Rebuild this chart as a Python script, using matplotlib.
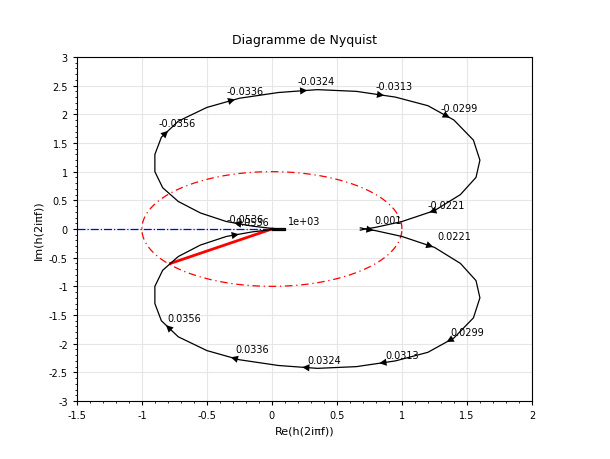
import numpy as np
import matplotlib.pyplot as plt

# lower branch (positive frequencies), from low to high frequency
re_low = [0.68, 0.72, 0.80, 1.00, 1.25, 1.45, 1.57, 1.60, 1.55, 1.40, 1.20, 0.95, 0.65, 0.35,
          0.05, -0.25, -0.50, -0.72, -0.85, -0.90, -0.90, -0.84, -0.72, -0.55, -0.35, -0.15, 0.0, 0.10]
im_low = [0.02, 0.00, -0.03, -0.13, -0.32, -0.60, -0.90, -1.20, -1.55, -1.90, -2.15, -2.30, -2.40, -2.43,
          -2.38, -2.28, -2.12, -1.88, -1.60, -1.30, -1.00, -0.72, -0.48, -0.28, -0.13, -0.05, -0.01, 0.0]

freq_labels = ["0.001", "0.0221", "0.0299", "0.0313", "0.0324", "0.0336", "0.0356", "0.0536"]
label_re = [0.77, 1.25, 1.35, 0.85, 0.25, -0.30, -0.82, -0.30]
label_im = [0.00, -0.27, -1.95, -2.35, -2.43, -2.25, -1.70, -0.03]

fig, ax = plt.subplots(figsize=(6.1, 4.6), dpi=100)
fig.subplots_adjust(left=0.126, right=0.872, top=0.874, bottom=0.126)

ax.plot([-1.5, 0], [0, 0], color="blue", ls="-.", lw=0.9)
t = np.linspace(0, 2 * np.pi, 300)
ax.plot(np.cos(t), np.sin(t), color="red", ls=(0, (6, 3, 1, 3)), lw=0.9)
ax.plot([0, -0.78], [0, -0.6], color="red", lw=2)

re_low = np.array(re_low)
im_low = np.array(im_low)
ax.plot(re_low, im_low, color="black", lw=0.9)
ax.plot(re_low[::-1], -im_low[::-1], color="black", lw=0.9)
ax.plot([0.0, 0.1, 0.1, 0.0], [0.01, 0.01, -0.01, -0.01], color="black", lw=0.9)


def arrow(x, y, dx, dy):
    ax.annotate("", xy=(x + dx, y + dy), xytext=(x, y),
                arrowprops=dict(arrowstyle="-|>", color="black", lw=0, mutation_scale=13))


def seg_point(x, y, sign):
    # nearest point on the curve segment and the local direction
    best = None
    for k in range(len(re_low) - 1):
        p = np.array([re_low[k], sign * im_low[k]])
        q = np.array([re_low[k + 1], sign * im_low[k + 1]])
        d = q - p
        s = np.clip(np.dot([x, y] - p, d) / np.dot(d, d), 0, 1)
        c = p + s * d
        dist = np.hypot(*(c - [x, y]))
        if best is None or dist < best[0]:
            best = (dist, c, d / np.hypot(*d))
    return best[1], best[2]


for lab, x, y in zip(freq_labels, label_re, label_im):
    c, d = seg_point(x, y, 1)
    arrow(c[0] - d[0] * 0.02, c[1] - d[1] * 0.02, d[0] * 0.04, d[1] * 0.04)
    ax.text(x + 0.02, y + 0.1, lab, fontsize=7)
    if lab != "0.001":
        c, d = seg_point(x, -y, -1)
        # upper branch is travelled in reverse
        arrow(c[0] + d[0] * 0.02, c[1] + d[1] * 0.02, -d[0] * 0.04, -d[1] * 0.04)
        ax.text(x - 0.05, -y + 0.1, "-" + lab, fontsize=7)
ax.text(0.12, 0.08, "1e+03", fontsize=7)

ax.set_xlim(-1.5, 2)
ax.set_ylim(-3, 3)
ax.set_xticks(np.arange(-1.5, 2.01, 0.5))
ax.set_yticks(np.arange(-3, 3.01, 0.5))
ax.set_xticklabels(["-1.5", "-1", "-0.5", "0", "0.5", "1", "1.5", "2"])
ax.set_yticklabels(["-3", "-2.5", "-2", "-1.5", "-1", "-0.5", "0", "0.5", "1", "1.5", "2", "2.5", "3"])
ax.set_xticks(np.arange(-1.5, 2.01, 0.1), minor=True)
ax.set_yticks(np.arange(-3, 3.01, 0.1), minor=True)
ax.tick_params(labelsize=7, direction="out", which="both", length=3)
ax.tick_params(which="minor", length=1.5)
ax.grid(True, color="#e6e6e6", lw=0.8)
ax.set_axisbelow(True)
ax.set_xlabel("Re(h(2iπf))", fontsize=8)
ax.set_ylabel("Im(h(2iπf))", fontsize=8)
ax.set_title("Diagramme de Nyquist", fontsize=9, pad=10)
fig.savefig("out.png")
